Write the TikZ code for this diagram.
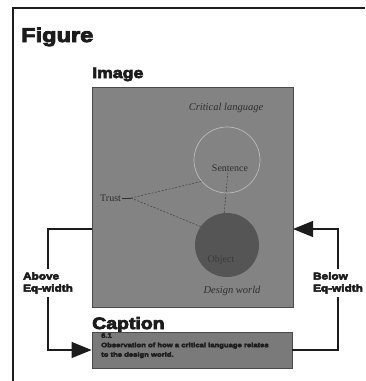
\documentclass[tikz,border=0pt]{standalone}
\usepackage{fontspec}
\usetikzlibrary{arrows.meta}
\newfontfamily\heavy[FakeStretch=1.18]{Liberation Sans Bold}
\newfontfamily\serifx{Liberation Serif}
% stroke the glyph outlines as well as filling them, for a black weight
\newcommand\blackweight[2]{\special{pdf:literal direct 2 Tr #1 w}#2\special{pdf:literal direct 0 Tr}}
\definecolor{ink}{HTML}{1C1C1C}
\definecolor{panel}{HTML}{838383}
\definecolor{capfill}{HTML}{7A7A7A}
\definecolor{panelline}{HTML}{4A4A4A}
\definecolor{darkball}{HTML}{555555}
\definecolor{faint}{HTML}{2E2E2E}
\begin{document}
\begin{tikzpicture}[x=1pt,y=-1pt,
  heading/.style={font=\heavy\fontsize{#1}{#1}\selectfont, text=ink, inner sep=0pt, anchor=base west},
  panelbox/.style={draw=panelline, line width=0.8pt, fill=#1, inner sep=0pt},
  sidelabel/.style={font=\heavy\fontsize{10}{12}\selectfont, text=ink, align=left, inner sep=3pt},
  flow/.style={draw=ink, line width=1.1pt},
  bigtip/.style={-{Triangle[length=20pt,width=16pt]}},
  serifnote/.style={font=\serifx\fontsize{10}{12}\selectfont, text=faint, inner sep=1pt},
  link/.style={draw=faint!70!panel, line width=0.6pt, dash pattern=on 2pt off 1.5pt}
]
\useasboundingbox (0,0) rectangle (365,381);

% outer frame (left and top edges)
\draw[ink, line width=2pt] (13,381) -- (13,8) -- (365,8);

% headings
\node[heading=20] (fighead) at (21,42) {\blackweight{0.9}{Figure}};
\node[heading=15] (imghead) at (92,78) {\blackweight{0.7}{Image}};
\node[heading=16.5] (caphead) at (92,329) {\blackweight{0.8}{Caption}};

% image panel
\node[panelbox=panel, minimum width=201pt, minimum height=220pt] (img) at (192.5,197) {};
\node[serifnote, font=\serifx\itshape\fontsize{10.5}{12}\selectfont] (critical) at (226,108) {Critical language};
\node[circle, draw=white!45!panel, line width=0.7pt, minimum size=66pt, inner sep=0pt] (sent) at (227,160) {};
\node[serifnote] (sentlbl) at (230,168) {Sentence};
\node[circle, fill=darkball, minimum size=64pt, inner sep=0pt] (obj) at (227,245) {};
\node[serifnote, text=darkball!70!black] (objlbl) at (221,260) {Object};
\node[serifnote, anchor=west] (trust) at (99,198) {Trust};
\coordinate (fan) at (131,198);
\node[serifnote, font=\serifx\itshape\fontsize{10.5}{12}\selectfont] (world) at (232,291) {Design world};

% relations inside the panel
\draw[faint, line width=0.6pt] (trust.east) -- (fan);
\draw[link] (fan) -- (sent.220);
\draw[link] (fan) -- (obj.145);
\draw[link] (sentlbl.-115) -- (obj.95);

% caption panel
\node[panelbox=capfill, minimum width=200pt, minimum height=36pt] (cap) at (192,350) {};
\node[anchor=north west, inner sep=0pt, align=left, text=ink,
      font=\heavy\fontsize{6.5}{9.5}\selectfont] (captext) at (101,333)
  {\blackweight{0.3}{6.1}\\\blackweight{0.3}{Observation of how a critical language relates}\\\blackweight{0.3}{to the design world.}};

% placement labels
\node[sidelabel] (above) at (48,283) {\blackweight{0.5}{Above}\\\blackweight{0.5}{Eq-width}};
\node[sidelabel] (below) at (338,283) {\blackweight{0.5}{Below}\\\blackweight{0.5}{Eq-width}};

% connectors between image and caption
\coordinate (imgL) at (92,229);
\coordinate (imgR) at (293,229);
\draw[flow] (imgL) -| (above.north);
\draw[flow, bigtip] (above.south) |- (cap.west);
\draw[flow] (cap.east) -| (below.south);
\draw[flow, bigtip] (below.north) |- (imgR);
\end{tikzpicture}
\end{document}
